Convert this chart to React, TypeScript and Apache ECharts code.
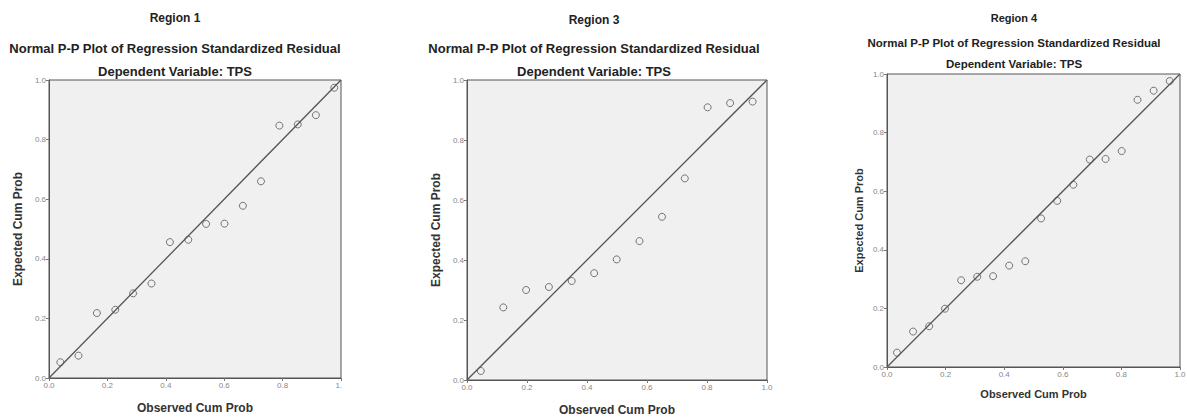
import React, { useEffect, useRef } from "react";
import * as echarts from "echarts";

// Region 1 (observed, expected)
const region1Observed = [0.039, 0.101, 0.164, 0.227, 0.288, 0.351, 0.414, 0.477, 0.538, 0.601, 0.664, 0.726, 0.789, 0.852, 0.914, 0.977];
const region1Expected = [0.053, 0.075, 0.218, 0.229, 0.284, 0.317, 0.456, 0.464, 0.517, 0.518, 0.578, 0.660, 0.847, 0.851, 0.882, 0.974];

// Region 3
const region3Observed = [0.046, 0.121, 0.197, 0.273, 0.349, 0.424, 0.499, 0.575, 0.650, 0.726, 0.802, 0.877, 0.952];
const region3Expected = [0.030, 0.242, 0.300, 0.310, 0.330, 0.356, 0.402, 0.463, 0.544, 0.672, 0.909, 0.923, 0.928];

// Region 4
const region4Observed = [0.034, 0.089, 0.144, 0.198, 0.253, 0.308, 0.362, 0.417, 0.472, 0.526, 0.581, 0.636, 0.692, 0.746, 0.801, 0.855, 0.910, 0.965];
const region4Expected = [0.049, 0.121, 0.139, 0.199, 0.296, 0.308, 0.310, 0.346, 0.361, 0.507, 0.567, 0.622, 0.708, 0.710, 0.737, 0.912, 0.943, 0.976];

const regionNames = ["Region 1", "Region 3", "Region 4"];
const mainTitle = "Normal P-P Plot of Regression Standardized Residual";
const subTitle = "Dependent Variable: TPS";
const xAxisName = "Observed Cum Prob";
const yAxisName = "Expected Cum Prob";
const referenceLine = [[0, 0], [1, 1]];

const FONT = "Arial, 'Liberation Sans', sans-serif";

export default function App() {
  const ref = useRef<HTMLDivElement>(null);
  useEffect(() => {
    if (!ref.current) return;
    const chart = echarts.init(ref.current, undefined, { renderer: "svg" });

    const grids = [
      { left: 49, top: 80, width: 292, height: 298 },
      { left: 467, top: 80, width: 300, height: 300 },
      { left: 887, top: 74, width: 293, height: 293 },
    ];
    const nameSizes = [12, 12, 11];
    const xNameGaps = [24, 24, 21];
    const yNameGaps = [25, 25, 23];
    const panels = [
      { obs: region1Observed, exp: region1Expected },
      { obs: region3Observed, exp: region3Expected },
      { obs: region4Observed, exp: region4Expected },
    ];
    const titlePos = [
      { cx: 175, ys: [18, 48, 71], sizes: [12, 13, 13] },
      { cx: 594, ys: [20, 48, 71], sizes: [12, 13, 13] },
      { cx: 1014, ys: [18, 43, 64], sizes: [11, 11.5, 11.5] },
    ];

    const axisCommon = (i: number) => ({
      type: "value",
      gridIndex: i,
      min: 0,
      max: 1,
      interval: 0.2,
      nameLocation: "middle",
      nameTextStyle: { fontFamily: FONT, fontWeight: "bold", fontSize: nameSizes[i], color: "#333" },
      axisLine: { show: true, lineStyle: { color: "#555", width: 1 } },
      axisTick: { show: true, length: 3, lineStyle: { color: "#777" } },
      axisLabel: {
        fontFamily: FONT,
        fontSize: 8,
        color: "#888",
        margin: 3,
        formatter: (v: number) => v.toFixed(1),
      },
      splitLine: { show: false },
    });

    const graphics: any[] = [];
    titlePos.forEach((t, i) => {
      const texts = [regionNames[i], mainTitle, subTitle];
      texts.forEach((txt, k) => {
        graphics.push({
          type: "text",
          x: t.cx,
          y: t.ys[k],
          z: 10,
          style: {
            text: txt,
            fontFamily: FONT,
            fontWeight: "bold",
            fontSize: t.sizes[k],
            fill: "#222",
            textAlign: "center",
            textVerticalAlign: "middle",
          },
        });
      });
    });
    // panel 1 is cropped on its right side in the reference
    graphics.push({
      type: "rect",
      shape: { x: 342, y: 62, width: 28, height: 330 },
      style: { fill: "#fff" },
      z: 100,
    });

    const series: any[] = [];
    panels.forEach((p, i) => {
      series.push({
        type: "line",
        xAxisIndex: i,
        yAxisIndex: i,
        data: referenceLine,
        symbol: "none",
        lineStyle: { color: "#555", width: 1.3 },
        silent: true,
        z: 2,
      });
      series.push({
        type: "scatter",
        xAxisIndex: i,
        yAxisIndex: i,
        data: p.obs.map((x, j) => [x, p.exp[j]]),
        symbol: "circle",
        symbolSize: 7,
        itemStyle: { color: "rgba(0,0,0,0)", borderColor: "#555", borderWidth: 1 },
        z: 3,
      });
    });

    chart.setOption({
      animation: false,
      backgroundColor: "#fff",
      grid: grids.map((g) => ({
        ...g,
        show: true,
        backgroundColor: "#f0f0f0",
        borderColor: "#555",
        borderWidth: 1,
        containLabel: false,
        outerBoundsMode: "none",
      })),
      xAxis: grids.map((_, i) => ({ ...axisCommon(i), name: xAxisName, nameGap: xNameGaps[i] })),
      yAxis: grids.map((_, i) => ({ ...axisCommon(i), name: yAxisName, nameGap: yNameGaps[i] })),
      graphic: graphics,
      series,
    });

    return () => chart.dispose();
  }, []);

  return (
    <div
      ref={ref}
      style={{ position: "fixed", left: 0, top: 0, width: 1187, height: 417 }}
    />
  );
}
